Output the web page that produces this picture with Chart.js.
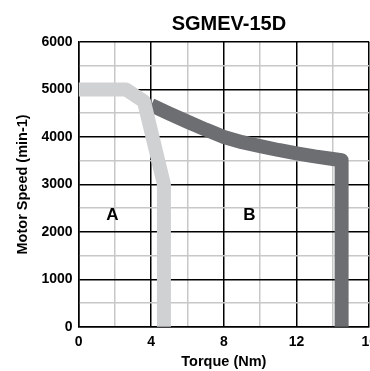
<!DOCTYPE html>
<html>
<head>
    <title>SGMEV-15D</title>
    <script src="https://cdn.jsdelivr.net/npm/chart.js"></script>
    <style>
        body { margin: 0; overflow: hidden; background: #fff; }
        #wrap { width: 384px; height: 371px; }
    </style>
</head>
<body>
    <div id="wrap"><canvas id="speedChart" width="384" height="371"></canvas></div>

    <script>
        const chartTitle = 'SGMEV-15D';

        // curve A (intermittent region boundary) - light gray
        const torqueA = [0, 2.6, 3.6, 4.7, 4.7];
        const speedA = [5000, 5000, 4750, 3000, 0];

        // curve B (continuous region boundary) - dark gray
        const torqueB = [4.0, 5, 6, 7, 8, 9, 10, 11, 12, 13, 14, 14.48, 14.48];
        const speedB = [4670, 4490, 4320, 4155, 4000, 3890, 3805, 3725, 3655, 3590, 3535, 3510, 0];

        const xTicks = [0, 4, 8, 12, 16];
        const yTicks = [0, 1000, 2000, 3000, 4000, 5000, 6000];

        const regionLabels = ['A', 'B'];
        const regionX = [1.86, 9.4];
        const regionY = [2350, 2350];

        function toPoints(xs, ys) {
            return xs.map((x, i) => ({ x: x, y: ys[i] }));
        }

        const FONT = '"Liberation Sans", Arial, sans-serif';

        const regionLabelPlugin = {
            id: 'regionLabels',
            afterDatasetsDraw(chart) {
                const ctx = chart.ctx;
                const xs = chart.scales.x;
                const ys = chart.scales.y;
                ctx.save();
                ctx.font = 'bold 17px ' + FONT;
                ctx.fillStyle = '#000';
                ctx.textAlign = 'center';
                ctx.textBaseline = 'middle';
                regionLabels.forEach((t, i) => {
                    ctx.fillText(t, xs.getPixelForValue(regionX[i]), ys.getPixelForValue(regionY[i]));
                });
                ctx.restore();
            }
        };

        // title sits a little right of the plot centre in the original
        const titlePlugin = {
            id: 'plotTitle',
            afterDraw(chart) {
                const ctx = chart.ctx;
                const area = chart.chartArea;
                ctx.save();
                ctx.font = 'bold 20px ' + FONT;
                ctx.fillStyle = '#000';
                ctx.textAlign = 'center';
                ctx.textBaseline = 'middle';
                ctx.fillText(chartTitle, (area.left + area.right) / 2 + 5, 24);
                ctx.restore();
            }
        };

        const gridColor = (major) => (ctx) => {
            if (!ctx.tick) return '#000';
            return ctx.tick.value % major === 0 ? '#000' : '#c8c8c8';
        };

        new Chart(document.getElementById('speedChart'), {
            type: 'scatter',
            data: {
                datasets: [{
                    label: 'A',
                    data: toPoints(torqueA, speedA),
                    showLine: true,
                    borderColor: '#d0d1d3',
                    borderWidth: 14,
                    borderJoinStyle: 'round',
                    pointRadius: 0,
                    order: 0
                }, {
                    label: 'B',
                    data: toPoints(torqueB, speedB),
                    showLine: true,
                    borderColor: '#6d6e71',
                    borderWidth: 14,
                    borderJoinStyle: 'round',
                    pointRadius: 0,
                    order: 1
                }]
            },
            options: {
                responsive: false,
                animation: false,
                layout: { padding: { left: 14, right: 0, top: 42, bottom: 0 } },
                plugins: {
                    legend: { display: false },
                    tooltip: { enabled: false },
                    title: { display: false }
                },
                scales: {
                    x: {
                        type: 'linear',
                        min: 0,
                        max: 16,
                        afterBuildTicks: (axis) => {
                            axis.ticks = [0, 2, 4, 6, 8, 10, 12, 14, 16].map(v => ({ value: v }));
                        },
                        ticks: {
                            autoSkip: false,
                            maxRotation: 0,
                            padding: 7,
                            color: '#000',
                            font: { family: FONT, size: 14, weight: 'bold' },
                            callback: (v) => xTicks.includes(v) ? String(v) : ''
                        },
                        grid: {
                            color: gridColor(4),
                            lineWidth: 1.5,
                            drawTicks: false
                        },
                        border: { color: '#000', width: 1.5 },
                        title: {
                            display: true,
                            text: 'Torque (Nm)',
                            color: '#000',
                            font: { family: FONT, size: 14.5, weight: 'bold' },
                            padding: { top: -4, bottom: 0 }
                        }
                    },
                    y: {
                        min: 0,
                        max: 6000,
                        afterBuildTicks: (axis) => {
                            const t = [];
                            for (let v = 0; v <= 6000; v += 500) t.push({ value: v });
                            axis.ticks = t;
                        },
                        ticks: {
                            autoSkip: false,
                            padding: 6,
                            color: '#000',
                            font: { family: FONT, size: 14, weight: 'bold' },
                            callback: (v) => yTicks.includes(v) ? String(v) : ''
                        },
                        grid: {
                            color: gridColor(1000),
                            lineWidth: 1.5,
                            drawTicks: false
                        },
                        border: { color: '#000', width: 1.5 },
                        title: {
                            display: true,
                            text: 'Motor Speed (min-1)',
                            color: '#000',
                            font: { family: FONT, size: 14.5, weight: 'bold' },
                            padding: { top: 0, bottom: 4 }
                        }
                    }
                }
            },
            plugins: [regionLabelPlugin, titlePlugin]
        });
    </script>
</body>
</html>
